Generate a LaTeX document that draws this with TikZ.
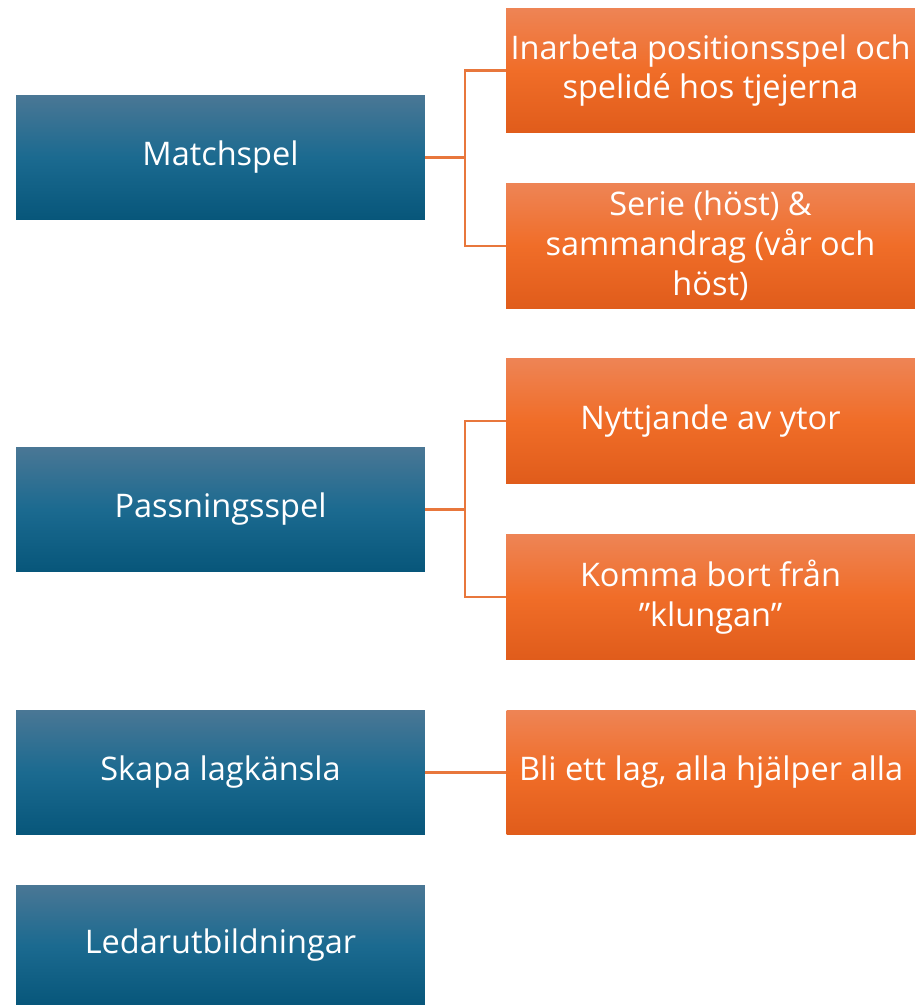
\documentclass[tikz,border=0pt]{standalone}
\usepackage{fontspec}
\setmainfont{Open Sans}
\usepackage{tikz}
\usetikzlibrary{positioning}

\definecolor{goaltop}{HTML}{4A7795}
\definecolor{goalmid}{HTML}{1B6A90}
\definecolor{goalbot}{HTML}{07567A}
\definecolor{steptop}{HTML}{EE8455}
\definecolor{stepmid}{HTML}{F06D28}
\definecolor{stepbot}{HTML}{E05C1B}
\definecolor{linkline}{HTML}{E8773C}

\begin{document}
\begin{tikzpicture}[x=0.02cm,y=-0.02cm,
  every node/.style={font=\fontsize{18.5}{22.7}\selectfont,text=white,align=center},
  goalbox/.style={minimum width=8.18cm,minimum height=2.5cm,inner sep=0pt,
    top color=goaltop,bottom color=goalbot,middle color=goalmid},
  taskbox/.style={minimum width=8.18cm,minimum height=2.5cm,inner sep=0pt,
    top color=steptop,bottom color=stepbot,middle color=stepmid},
  link/.style={draw=linkline,line width=1.3pt}]
\useasboundingbox (0,0) rectangle (922,1005);
% goals
\node[goalbox] (match) at (220.5,157.5) {Matchspel};
\node[goalbox] (pass) at (220.5,509.5) {Passningsspel};
\node[goalbox] (team) at (220.5,772.5) {Skapa lagkänsla};
\node[goalbox,minimum height=2.42cm] (lead) at (220.5,945.5) {Ledarutbildningar};
% tasks
\node[taskbox] (posit) at (710.5,70.5) {Inarbeta positionsspel och\\spelidé hos tjejerna};
\node[taskbox] (serie) at (710.5,246) {Serie (höst) \&\\sammandrag (vår och\\höst)};
\node[taskbox] (ytor) at (710.5,421) {Nyttjande av ytor};
\node[taskbox] (klung) at (710.5,597) {Komma bort från\\”klungan”};
\node[taskbox,right=1.62cm of team] (lag) {Bli ett lag, alla hjälper alla};
% connectors
\draw[link] (match.east) -- ++(40,0) |- (posit.west);
\draw[link] (match.east) -- ++(40,0) |- (serie.west);
\draw[link] (pass.east) -- ++(40,0) |- (ytor.west);
\draw[link] (pass.east) -- ++(40,0) |- (klung.west);
\draw[link] (team.east) -- (lag.west);
\end{tikzpicture}
\end{document}
